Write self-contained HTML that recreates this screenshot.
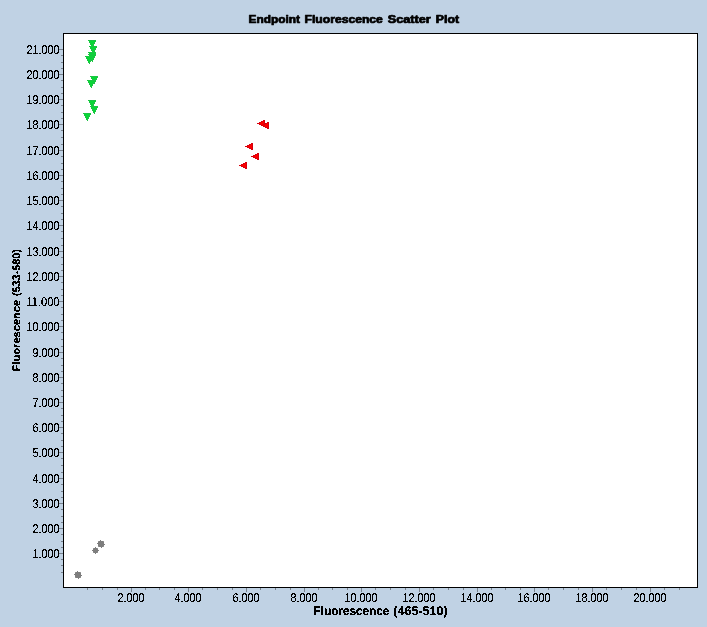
<!DOCTYPE html>
<html lang="en">
<head>
<meta charset="utf-8">
<title>Endpoint Fluorescence Scatter Plot</title>
<style>
html,body{margin:0;padding:0;}
body{width:707px;height:627px;overflow:hidden;background:#c0d2e4;}
#chart{display:block;width:707px;height:627px;background:#c0d2e4;}
text{font-family:"Liberation Sans",Arial,Helvetica,sans-serif;fill:#000;}
.lbl{font-size:12.6px;text-rendering:geometricPrecision;}
.axt{font-size:12.4px;font-weight:bold;text-rendering:geometricPrecision;}
.ttl{font-size:10.2px;font-weight:bold;}
</style>
</head>
<body>
<svg id="chart" width="707" height="627" viewBox="0 0 707 627">
<defs>
<filter id="crisp" x="-5%" y="-30%" width="110%" height="160%" color-interpolation-filters="sRGB"><feComponentTransfer><feFuncA type="discrete" tableValues="0 0 1 1 1"/></feComponentTransfer></filter>
<filter id="crispb" x="-5%" y="-30%" width="110%" height="160%" color-interpolation-filters="sRGB"><feComponentTransfer><feFuncA type="discrete" tableValues="0 1 1"/></feComponentTransfer></filter>
</defs>
<rect x="0" y="0" width="707" height="627" fill="#c0d2e4"/>
<g id="frame" shape-rendering="crispEdges">
<rect x="63" y="33" width="635" height="555" fill="#000"/>
<rect x="64" y="34" width="633" height="553" fill="#fff"/>
</g>
<g id="y-ticks" shape-rendering="crispEdges">
<rect x="59" y="553" width="4" height="1" fill="#78828e"/>
<rect x="59" y="528" width="4" height="1" fill="#78828e"/>
<rect x="59" y="503" width="4" height="1" fill="#78828e"/>
<rect x="59" y="478" width="4" height="1" fill="#78828e"/>
<rect x="59" y="452" width="4" height="1" fill="#78828e"/>
<rect x="59" y="427" width="4" height="1" fill="#78828e"/>
<rect x="59" y="402" width="4" height="1" fill="#78828e"/>
<rect x="59" y="377" width="4" height="1" fill="#78828e"/>
<rect x="59" y="352" width="4" height="1" fill="#78828e"/>
<rect x="59" y="326" width="4" height="1" fill="#78828e"/>
<rect x="59" y="301" width="4" height="1" fill="#78828e"/>
<rect x="59" y="276" width="4" height="1" fill="#78828e"/>
<rect x="59" y="251" width="4" height="1" fill="#78828e"/>
<rect x="59" y="225" width="4" height="1" fill="#78828e"/>
<rect x="59" y="200" width="4" height="1" fill="#78828e"/>
<rect x="59" y="175" width="4" height="1" fill="#78828e"/>
<rect x="59" y="150" width="4" height="1" fill="#78828e"/>
<rect x="59" y="124" width="4" height="1" fill="#78828e"/>
<rect x="59" y="99" width="4" height="1" fill="#78828e"/>
<rect x="59" y="74" width="4" height="1" fill="#78828e"/>
<rect x="59" y="49" width="4" height="1" fill="#78828e"/>
<rect x="61" y="55" width="2" height="1" fill="#78828e"/>
<rect x="61" y="62" width="2" height="1" fill="#78828e"/>
<rect x="61" y="68" width="2" height="1" fill="#78828e"/>
<rect x="61" y="80" width="2" height="1" fill="#78828e"/>
<rect x="61" y="87" width="2" height="1" fill="#78828e"/>
<rect x="61" y="93" width="2" height="1" fill="#78828e"/>
<rect x="61" y="105" width="2" height="1" fill="#78828e"/>
<rect x="61" y="112" width="2" height="1" fill="#78828e"/>
<rect x="61" y="118" width="2" height="1" fill="#78828e"/>
<rect x="61" y="130" width="2" height="1" fill="#78828e"/>
<rect x="61" y="137" width="2" height="1" fill="#78828e"/>
<rect x="61" y="144" width="2" height="1" fill="#78828e"/>
<rect x="61" y="156" width="2" height="1" fill="#78828e"/>
<rect x="61" y="163" width="2" height="1" fill="#78828e"/>
<rect x="61" y="169" width="2" height="1" fill="#78828e"/>
<rect x="61" y="181" width="2" height="1" fill="#78828e"/>
<rect x="61" y="188" width="2" height="1" fill="#78828e"/>
<rect x="61" y="194" width="2" height="1" fill="#78828e"/>
<rect x="61" y="206" width="2" height="1" fill="#78828e"/>
<rect x="61" y="213" width="2" height="1" fill="#78828e"/>
<rect x="61" y="219" width="2" height="1" fill="#78828e"/>
<rect x="61" y="231" width="2" height="1" fill="#78828e"/>
<rect x="61" y="238" width="2" height="1" fill="#78828e"/>
<rect x="61" y="245" width="2" height="1" fill="#78828e"/>
<rect x="61" y="257" width="2" height="1" fill="#78828e"/>
<rect x="61" y="264" width="2" height="1" fill="#78828e"/>
<rect x="61" y="270" width="2" height="1" fill="#78828e"/>
<rect x="61" y="282" width="2" height="1" fill="#78828e"/>
<rect x="61" y="289" width="2" height="1" fill="#78828e"/>
<rect x="61" y="295" width="2" height="1" fill="#78828e"/>
<rect x="61" y="307" width="2" height="1" fill="#78828e"/>
<rect x="61" y="314" width="2" height="1" fill="#78828e"/>
<rect x="61" y="320" width="2" height="1" fill="#78828e"/>
<rect x="61" y="332" width="2" height="1" fill="#78828e"/>
<rect x="61" y="339" width="2" height="1" fill="#78828e"/>
<rect x="61" y="346" width="2" height="1" fill="#78828e"/>
<rect x="61" y="358" width="2" height="1" fill="#78828e"/>
<rect x="61" y="365" width="2" height="1" fill="#78828e"/>
<rect x="61" y="371" width="2" height="1" fill="#78828e"/>
<rect x="61" y="383" width="2" height="1" fill="#78828e"/>
<rect x="61" y="390" width="2" height="1" fill="#78828e"/>
<rect x="61" y="396" width="2" height="1" fill="#78828e"/>
<rect x="61" y="408" width="2" height="1" fill="#78828e"/>
<rect x="61" y="415" width="2" height="1" fill="#78828e"/>
<rect x="61" y="421" width="2" height="1" fill="#78828e"/>
<rect x="61" y="433" width="2" height="1" fill="#78828e"/>
<rect x="61" y="440" width="2" height="1" fill="#78828e"/>
<rect x="61" y="446" width="2" height="1" fill="#78828e"/>
<rect x="61" y="458" width="2" height="1" fill="#78828e"/>
<rect x="61" y="465" width="2" height="1" fill="#78828e"/>
<rect x="61" y="472" width="2" height="1" fill="#78828e"/>
<rect x="61" y="484" width="2" height="1" fill="#78828e"/>
<rect x="61" y="491" width="2" height="1" fill="#78828e"/>
<rect x="61" y="497" width="2" height="1" fill="#78828e"/>
<rect x="61" y="509" width="2" height="1" fill="#78828e"/>
<rect x="61" y="516" width="2" height="1" fill="#78828e"/>
<rect x="61" y="522" width="2" height="1" fill="#78828e"/>
<rect x="61" y="534" width="2" height="1" fill="#78828e"/>
<rect x="61" y="541" width="2" height="1" fill="#78828e"/>
<rect x="61" y="547" width="2" height="1" fill="#78828e"/>
<rect x="61" y="559" width="2" height="1" fill="#78828e"/>
<rect x="61" y="565" width="2" height="1" fill="#78828e"/>
<rect x="61" y="572" width="2" height="1" fill="#78828e"/>
</g>
<g id="x-ticks" shape-rendering="crispEdges">
<rect x="131" y="588" width="1" height="4" fill="#78828e"/>
<rect x="188" y="588" width="1" height="4" fill="#78828e"/>
<rect x="246" y="588" width="1" height="4" fill="#78828e"/>
<rect x="304" y="588" width="1" height="4" fill="#78828e"/>
<rect x="361" y="588" width="1" height="4" fill="#78828e"/>
<rect x="419" y="588" width="1" height="4" fill="#78828e"/>
<rect x="477" y="588" width="1" height="4" fill="#78828e"/>
<rect x="534" y="588" width="1" height="4" fill="#78828e"/>
<rect x="592" y="588" width="1" height="4" fill="#78828e"/>
<rect x="650" y="588" width="1" height="4" fill="#78828e"/>
<rect x="87" y="588" width="1" height="2" fill="#78828e"/>
<rect x="102" y="588" width="1" height="2" fill="#78828e"/>
<rect x="117" y="588" width="1" height="2" fill="#78828e"/>
<rect x="145" y="588" width="1" height="2" fill="#78828e"/>
<rect x="159" y="588" width="1" height="2" fill="#78828e"/>
<rect x="174" y="588" width="1" height="2" fill="#78828e"/>
<rect x="202" y="588" width="1" height="2" fill="#78828e"/>
<rect x="217" y="588" width="1" height="2" fill="#78828e"/>
<rect x="232" y="588" width="1" height="2" fill="#78828e"/>
<rect x="260" y="588" width="1" height="2" fill="#78828e"/>
<rect x="275" y="588" width="1" height="2" fill="#78828e"/>
<rect x="290" y="588" width="1" height="2" fill="#78828e"/>
<rect x="318" y="588" width="1" height="2" fill="#78828e"/>
<rect x="332" y="588" width="1" height="2" fill="#78828e"/>
<rect x="347" y="588" width="1" height="2" fill="#78828e"/>
<rect x="375" y="588" width="1" height="2" fill="#78828e"/>
<rect x="390" y="588" width="1" height="2" fill="#78828e"/>
<rect x="405" y="588" width="1" height="2" fill="#78828e"/>
<rect x="433" y="588" width="1" height="2" fill="#78828e"/>
<rect x="448" y="588" width="1" height="2" fill="#78828e"/>
<rect x="463" y="588" width="1" height="2" fill="#78828e"/>
<rect x="491" y="588" width="1" height="2" fill="#78828e"/>
<rect x="505" y="588" width="1" height="2" fill="#78828e"/>
<rect x="520" y="588" width="1" height="2" fill="#78828e"/>
<rect x="548" y="588" width="1" height="2" fill="#78828e"/>
<rect x="563" y="588" width="1" height="2" fill="#78828e"/>
<rect x="578" y="588" width="1" height="2" fill="#78828e"/>
<rect x="606" y="588" width="1" height="2" fill="#78828e"/>
<rect x="621" y="588" width="1" height="2" fill="#78828e"/>
<rect x="636" y="588" width="1" height="2" fill="#78828e"/>
<rect x="664" y="588" width="1" height="2" fill="#78828e"/>
<rect x="679" y="588" width="1" height="2" fill="#78828e"/>
</g>
<g id="y-labels" class="lbl" text-anchor="end">
<text x="59.5" y="54" textLength="33" lengthAdjust="spacingAndGlyphs" filter="url(#crisp)">21.000</text>
<text x="59.5" y="79" textLength="33" lengthAdjust="spacingAndGlyphs" filter="url(#crisp)">20.000</text>
<text x="59.5" y="104" textLength="33" lengthAdjust="spacingAndGlyphs" filter="url(#crisp)">19.000</text>
<text x="59.5" y="129" textLength="33" lengthAdjust="spacingAndGlyphs" filter="url(#crisp)">18.000</text>
<text x="59.5" y="155" textLength="33" lengthAdjust="spacingAndGlyphs" filter="url(#crisp)">17.000</text>
<text x="59.5" y="180" textLength="33" lengthAdjust="spacingAndGlyphs" filter="url(#crisp)">16.000</text>
<text x="59.5" y="205" textLength="33" lengthAdjust="spacingAndGlyphs" filter="url(#crisp)">15.000</text>
<text x="59.5" y="230" textLength="33" lengthAdjust="spacingAndGlyphs" filter="url(#crisp)">14.000</text>
<text x="59.5" y="256" textLength="33" lengthAdjust="spacingAndGlyphs" filter="url(#crisp)">13.000</text>
<text x="59.5" y="281" textLength="33" lengthAdjust="spacingAndGlyphs" filter="url(#crisp)">12.000</text>
<text x="59.5" y="306" textLength="33" lengthAdjust="spacingAndGlyphs" filter="url(#crisp)">11.000</text>
<text x="59.5" y="331" textLength="33" lengthAdjust="spacingAndGlyphs" filter="url(#crisp)">10.000</text>
<text x="59.5" y="357" textLength="27" lengthAdjust="spacingAndGlyphs" filter="url(#crisp)">9.000</text>
<text x="59.5" y="382" textLength="27" lengthAdjust="spacingAndGlyphs" filter="url(#crisp)">8.000</text>
<text x="59.5" y="407" textLength="27" lengthAdjust="spacingAndGlyphs" filter="url(#crisp)">7.000</text>
<text x="59.5" y="432" textLength="27" lengthAdjust="spacingAndGlyphs" filter="url(#crisp)">6.000</text>
<text x="59.5" y="457" textLength="27" lengthAdjust="spacingAndGlyphs" filter="url(#crisp)">5.000</text>
<text x="59.5" y="483" textLength="27" lengthAdjust="spacingAndGlyphs" filter="url(#crisp)">4.000</text>
<text x="59.5" y="508" textLength="27" lengthAdjust="spacingAndGlyphs" filter="url(#crisp)">3.000</text>
<text x="59.5" y="533" textLength="27" lengthAdjust="spacingAndGlyphs" filter="url(#crisp)">2.000</text>
<text x="59.5" y="558" textLength="27" lengthAdjust="spacingAndGlyphs" filter="url(#crisp)">1.000</text>
</g>
<g id="x-labels" class="lbl">
<text x="117.5" y="602" textLength="27" lengthAdjust="spacingAndGlyphs" filter="url(#crisp)">2.000</text>
<text x="174.5" y="602" textLength="27" lengthAdjust="spacingAndGlyphs" filter="url(#crisp)">4.000</text>
<text x="232.5" y="602" textLength="27" lengthAdjust="spacingAndGlyphs" filter="url(#crisp)">6.000</text>
<text x="290.5" y="602" textLength="27" lengthAdjust="spacingAndGlyphs" filter="url(#crisp)">8.000</text>
<text x="344.5" y="602" textLength="33" lengthAdjust="spacingAndGlyphs" filter="url(#crisp)">10.000</text>
<text x="402.5" y="602" textLength="33" lengthAdjust="spacingAndGlyphs" filter="url(#crisp)">12.000</text>
<text x="460.5" y="602" textLength="33" lengthAdjust="spacingAndGlyphs" filter="url(#crisp)">14.000</text>
<text x="517.5" y="602" textLength="33" lengthAdjust="spacingAndGlyphs" filter="url(#crisp)">16.000</text>
<text x="575.5" y="602" textLength="33" lengthAdjust="spacingAndGlyphs" filter="url(#crisp)">18.000</text>
<text x="633.5" y="602" textLength="33" lengthAdjust="spacingAndGlyphs" filter="url(#crisp)">20.000</text>
</g>
<text id="title" class="ttl" y="22.5" stroke="#000" stroke-width="0.7" stroke-linejoin="round"><tspan x="248.6" textLength="51.4" lengthAdjust="spacingAndGlyphs">Endpoint</tspan> <tspan x="304.6" textLength="78.2" lengthAdjust="spacingAndGlyphs">Fluorescence</tspan> <tspan x="387.8" textLength="42.9" lengthAdjust="spacingAndGlyphs">Scatter</tspan> <tspan x="435.8" textLength="23.2" lengthAdjust="spacingAndGlyphs">Plot</tspan></text>
<text id="x-title" class="axt" y="615" filter="url(#crispb)"><tspan x="313.5" textLength="75.8" lengthAdjust="spacingAndGlyphs">Fluorescence</tspan> <tspan x="393.3" textLength="54.4" lengthAdjust="spacingAndGlyphs">(465-510)</tspan></text>
<text id="y-title" class="axt" style="font-size:11px" transform="translate(20 371.3) rotate(-90)" y="0" filter="url(#crisp)"><tspan x="0" textLength="71.4" lengthAdjust="spacingAndGlyphs">Fluorescence</tspan> <tspan x="75.2" textLength="47" lengthAdjust="spacingAndGlyphs">(533-580)</tspan></text>
<g id="series-green" shape-rendering="crispEdges">
<g><rect x="88" y="40" width="8" height="1" fill="#1cc444"/><rect x="89" y="41" width="7" height="1" fill="#1cc444"/><rect x="89" y="42" width="6" height="1" fill="#1cc444"/><rect x="90" y="43" width="5" height="1" fill="#1cc444"/><rect x="90" y="44" width="4" height="1" fill="#1cc444"/><rect x="91" y="45" width="3" height="1" fill="#1cc444"/><rect x="91" y="46" width="2" height="1" fill="#1cc444"/><rect x="92" y="47" width="1" height="1" fill="#1cc444"/><rect x="89" y="41" width="6" height="1" fill="#08d636"/><rect x="90" y="42" width="4" height="1" fill="#08d636"/><rect x="91" y="43" width="2" height="1" fill="#08d636"/><rect x="91" y="44" width="2" height="1" fill="#08d636"/><rect x="90" y="41" width="5" height="1" fill="#08d636"/><rect x="91" y="45" width="2" height="1" fill="#08d636"/></g>
<g><rect x="89" y="46" width="8" height="1" fill="#1cc444"/><rect x="90" y="47" width="7" height="1" fill="#1cc444"/><rect x="90" y="48" width="6" height="1" fill="#1cc444"/><rect x="91" y="49" width="5" height="1" fill="#1cc444"/><rect x="91" y="50" width="4" height="1" fill="#1cc444"/><rect x="92" y="51" width="3" height="1" fill="#1cc444"/><rect x="92" y="52" width="2" height="1" fill="#1cc444"/><rect x="93" y="53" width="1" height="1" fill="#1cc444"/><rect x="90" y="47" width="6" height="1" fill="#08d636"/><rect x="91" y="48" width="4" height="1" fill="#08d636"/><rect x="92" y="49" width="2" height="1" fill="#08d636"/><rect x="92" y="50" width="2" height="1" fill="#08d636"/><rect x="91" y="47" width="5" height="1" fill="#08d636"/><rect x="92" y="51" width="2" height="1" fill="#08d636"/></g>
<g><rect x="88" y="52" width="8" height="1" fill="#1cc444"/><rect x="89" y="53" width="7" height="1" fill="#1cc444"/><rect x="89" y="54" width="6" height="1" fill="#1cc444"/><rect x="90" y="55" width="5" height="1" fill="#1cc444"/><rect x="90" y="56" width="4" height="1" fill="#1cc444"/><rect x="91" y="57" width="3" height="1" fill="#1cc444"/><rect x="91" y="58" width="2" height="1" fill="#1cc444"/><rect x="92" y="59" width="1" height="1" fill="#1cc444"/><rect x="89" y="53" width="6" height="1" fill="#08d636"/><rect x="90" y="54" width="4" height="1" fill="#08d636"/><rect x="91" y="55" width="2" height="1" fill="#08d636"/><rect x="91" y="56" width="2" height="1" fill="#08d636"/><rect x="90" y="53" width="5" height="1" fill="#08d636"/><rect x="91" y="57" width="2" height="1" fill="#08d636"/></g>
<g><rect x="88" y="54" width="8" height="1" fill="#1cc444"/><rect x="89" y="55" width="7" height="1" fill="#1cc444"/><rect x="89" y="56" width="6" height="1" fill="#1cc444"/><rect x="90" y="57" width="5" height="1" fill="#1cc444"/><rect x="90" y="58" width="4" height="1" fill="#1cc444"/><rect x="91" y="59" width="3" height="1" fill="#1cc444"/><rect x="91" y="60" width="2" height="1" fill="#1cc444"/><rect x="92" y="61" width="1" height="1" fill="#1cc444"/><rect x="89" y="55" width="6" height="1" fill="#08d636"/><rect x="90" y="56" width="4" height="1" fill="#08d636"/><rect x="91" y="57" width="2" height="1" fill="#08d636"/><rect x="91" y="58" width="2" height="1" fill="#08d636"/><rect x="90" y="55" width="5" height="1" fill="#08d636"/><rect x="91" y="59" width="2" height="1" fill="#08d636"/></g>
<g><rect x="85" y="56" width="8" height="1" fill="#1cc444"/><rect x="86" y="57" width="7" height="1" fill="#1cc444"/><rect x="86" y="58" width="6" height="1" fill="#1cc444"/><rect x="87" y="59" width="5" height="1" fill="#1cc444"/><rect x="87" y="60" width="4" height="1" fill="#1cc444"/><rect x="88" y="61" width="3" height="1" fill="#1cc444"/><rect x="88" y="62" width="2" height="1" fill="#1cc444"/><rect x="89" y="63" width="1" height="1" fill="#1cc444"/><rect x="86" y="57" width="6" height="1" fill="#08d636"/><rect x="87" y="58" width="4" height="1" fill="#08d636"/><rect x="88" y="59" width="2" height="1" fill="#08d636"/><rect x="88" y="60" width="2" height="1" fill="#08d636"/><rect x="87" y="57" width="5" height="1" fill="#08d636"/><rect x="88" y="61" width="2" height="1" fill="#08d636"/></g>
<g><rect x="90" y="76" width="8" height="1" fill="#1cc444"/><rect x="91" y="77" width="7" height="1" fill="#1cc444"/><rect x="91" y="78" width="6" height="1" fill="#1cc444"/><rect x="92" y="79" width="5" height="1" fill="#1cc444"/><rect x="92" y="80" width="4" height="1" fill="#1cc444"/><rect x="93" y="81" width="3" height="1" fill="#1cc444"/><rect x="93" y="82" width="2" height="1" fill="#1cc444"/><rect x="94" y="83" width="1" height="1" fill="#1cc444"/><rect x="91" y="77" width="6" height="1" fill="#08d636"/><rect x="92" y="78" width="4" height="1" fill="#08d636"/><rect x="93" y="79" width="2" height="1" fill="#08d636"/><rect x="93" y="80" width="2" height="1" fill="#08d636"/><rect x="92" y="77" width="5" height="1" fill="#08d636"/><rect x="93" y="81" width="2" height="1" fill="#08d636"/></g>
<g><rect x="87" y="80" width="8" height="1" fill="#1cc444"/><rect x="88" y="81" width="7" height="1" fill="#1cc444"/><rect x="88" y="82" width="6" height="1" fill="#1cc444"/><rect x="89" y="83" width="5" height="1" fill="#1cc444"/><rect x="89" y="84" width="4" height="1" fill="#1cc444"/><rect x="90" y="85" width="3" height="1" fill="#1cc444"/><rect x="90" y="86" width="2" height="1" fill="#1cc444"/><rect x="91" y="87" width="1" height="1" fill="#1cc444"/><rect x="88" y="81" width="6" height="1" fill="#08d636"/><rect x="89" y="82" width="4" height="1" fill="#08d636"/><rect x="90" y="83" width="2" height="1" fill="#08d636"/><rect x="90" y="84" width="2" height="1" fill="#08d636"/><rect x="89" y="81" width="5" height="1" fill="#08d636"/><rect x="90" y="85" width="2" height="1" fill="#08d636"/></g>
<g><rect x="88" y="100" width="8" height="1" fill="#1cc444"/><rect x="89" y="101" width="7" height="1" fill="#1cc444"/><rect x="89" y="102" width="6" height="1" fill="#1cc444"/><rect x="90" y="103" width="5" height="1" fill="#1cc444"/><rect x="90" y="104" width="4" height="1" fill="#1cc444"/><rect x="91" y="105" width="3" height="1" fill="#1cc444"/><rect x="91" y="106" width="2" height="1" fill="#1cc444"/><rect x="92" y="107" width="1" height="1" fill="#1cc444"/><rect x="89" y="101" width="6" height="1" fill="#08d636"/><rect x="90" y="102" width="4" height="1" fill="#08d636"/><rect x="91" y="103" width="2" height="1" fill="#08d636"/><rect x="91" y="104" width="2" height="1" fill="#08d636"/><rect x="90" y="101" width="5" height="1" fill="#08d636"/><rect x="91" y="105" width="2" height="1" fill="#08d636"/></g>
<g><rect x="90" y="106" width="8" height="1" fill="#1cc444"/><rect x="91" y="107" width="7" height="1" fill="#1cc444"/><rect x="91" y="108" width="6" height="1" fill="#1cc444"/><rect x="92" y="109" width="5" height="1" fill="#1cc444"/><rect x="92" y="110" width="4" height="1" fill="#1cc444"/><rect x="93" y="111" width="3" height="1" fill="#1cc444"/><rect x="93" y="112" width="2" height="1" fill="#1cc444"/><rect x="94" y="113" width="1" height="1" fill="#1cc444"/><rect x="91" y="107" width="6" height="1" fill="#08d636"/><rect x="92" y="108" width="4" height="1" fill="#08d636"/><rect x="93" y="109" width="2" height="1" fill="#08d636"/><rect x="93" y="110" width="2" height="1" fill="#08d636"/><rect x="92" y="107" width="5" height="1" fill="#08d636"/><rect x="93" y="111" width="2" height="1" fill="#08d636"/></g>
<g><rect x="83" y="113" width="8" height="1" fill="#1cc444"/><rect x="84" y="114" width="7" height="1" fill="#1cc444"/><rect x="84" y="115" width="6" height="1" fill="#1cc444"/><rect x="85" y="116" width="5" height="1" fill="#1cc444"/><rect x="85" y="117" width="4" height="1" fill="#1cc444"/><rect x="86" y="118" width="3" height="1" fill="#1cc444"/><rect x="86" y="119" width="2" height="1" fill="#1cc444"/><rect x="87" y="120" width="1" height="1" fill="#1cc444"/><rect x="84" y="114" width="6" height="1" fill="#08d636"/><rect x="85" y="115" width="4" height="1" fill="#08d636"/><rect x="86" y="116" width="2" height="1" fill="#08d636"/><rect x="86" y="117" width="2" height="1" fill="#08d636"/><rect x="85" y="114" width="5" height="1" fill="#08d636"/><rect x="86" y="118" width="2" height="1" fill="#08d636"/></g>
</g>
<g id="series-red" shape-rendering="crispEdges">
<g><rect x="257" y="123" width="1" height="1" fill="#d4000e"/><rect x="258" y="123" width="1" height="1" fill="#d4000e"/><rect x="259" y="122" width="1" height="3" fill="#d4000e"/><rect x="260" y="122" width="1" height="3" fill="#d4000e"/><rect x="261" y="121" width="1" height="5" fill="#d4000e"/><rect x="262" y="121" width="1" height="5" fill="#d4000e"/><rect x="263" y="120" width="1" height="7" fill="#d4000e"/><rect x="264" y="120" width="1" height="7" fill="#d4000e"/><rect x="259" y="123" width="1" height="1" fill="#fa0000"/><rect x="260" y="123" width="1" height="1" fill="#fa0000"/><rect x="261" y="122" width="1" height="3" fill="#fa0000"/><rect x="262" y="122" width="1" height="3" fill="#fa0000"/><rect x="263" y="121" width="1" height="5" fill="#fa0000"/></g>
<g><rect x="261" y="125" width="1" height="1" fill="#d4000e"/><rect x="262" y="125" width="1" height="1" fill="#d4000e"/><rect x="263" y="124" width="1" height="3" fill="#d4000e"/><rect x="264" y="124" width="1" height="3" fill="#d4000e"/><rect x="265" y="123" width="1" height="5" fill="#d4000e"/><rect x="266" y="123" width="1" height="5" fill="#d4000e"/><rect x="267" y="122" width="1" height="7" fill="#d4000e"/><rect x="268" y="122" width="1" height="7" fill="#d4000e"/><rect x="263" y="125" width="1" height="1" fill="#fa0000"/><rect x="264" y="125" width="1" height="1" fill="#fa0000"/><rect x="265" y="124" width="1" height="3" fill="#fa0000"/><rect x="266" y="124" width="1" height="3" fill="#fa0000"/><rect x="267" y="123" width="1" height="5" fill="#fa0000"/></g>
<g><rect x="245" y="146" width="1" height="1" fill="#d4000e"/><rect x="246" y="146" width="1" height="1" fill="#d4000e"/><rect x="247" y="145" width="1" height="3" fill="#d4000e"/><rect x="248" y="145" width="1" height="3" fill="#d4000e"/><rect x="249" y="144" width="1" height="5" fill="#d4000e"/><rect x="250" y="144" width="1" height="5" fill="#d4000e"/><rect x="251" y="143" width="1" height="7" fill="#d4000e"/><rect x="252" y="143" width="1" height="7" fill="#d4000e"/><rect x="247" y="146" width="1" height="1" fill="#fa0000"/><rect x="248" y="146" width="1" height="1" fill="#fa0000"/><rect x="249" y="145" width="1" height="3" fill="#fa0000"/><rect x="250" y="145" width="1" height="3" fill="#fa0000"/><rect x="251" y="144" width="1" height="5" fill="#fa0000"/></g>
<g><rect x="251" y="156" width="1" height="1" fill="#d4000e"/><rect x="252" y="156" width="1" height="1" fill="#d4000e"/><rect x="253" y="155" width="1" height="3" fill="#d4000e"/><rect x="254" y="155" width="1" height="3" fill="#d4000e"/><rect x="255" y="154" width="1" height="5" fill="#d4000e"/><rect x="256" y="154" width="1" height="5" fill="#d4000e"/><rect x="257" y="153" width="1" height="7" fill="#d4000e"/><rect x="258" y="153" width="1" height="7" fill="#d4000e"/><rect x="253" y="156" width="1" height="1" fill="#fa0000"/><rect x="254" y="156" width="1" height="1" fill="#fa0000"/><rect x="255" y="155" width="1" height="3" fill="#fa0000"/><rect x="256" y="155" width="1" height="3" fill="#fa0000"/><rect x="257" y="154" width="1" height="5" fill="#fa0000"/></g>
<g><rect x="239" y="165" width="1" height="1" fill="#d4000e"/><rect x="240" y="165" width="1" height="1" fill="#d4000e"/><rect x="241" y="164" width="1" height="3" fill="#d4000e"/><rect x="242" y="164" width="1" height="3" fill="#d4000e"/><rect x="243" y="163" width="1" height="5" fill="#d4000e"/><rect x="244" y="163" width="1" height="5" fill="#d4000e"/><rect x="245" y="162" width="1" height="7" fill="#d4000e"/><rect x="246" y="162" width="1" height="7" fill="#d4000e"/><rect x="241" y="165" width="1" height="1" fill="#fa0000"/><rect x="242" y="165" width="1" height="1" fill="#fa0000"/><rect x="243" y="164" width="1" height="3" fill="#fa0000"/><rect x="244" y="164" width="1" height="3" fill="#fa0000"/><rect x="245" y="163" width="1" height="5" fill="#fa0000"/></g>
</g>
<g id="series-gray" shape-rendering="crispEdges">
<g><rect x="75" y="572" width="6" height="6" fill="#959595"/><rect x="76" y="572" width="4" height="6" fill="#7e7e7e"/><rect x="75" y="573" width="6" height="4" fill="#7e7e7e"/><rect x="77" y="571" width="1" height="1" fill="#7e7e7e"/><rect x="78" y="578" width="1" height="1" fill="#7e7e7e"/><rect x="74" y="574" width="1" height="1" fill="#7e7e7e"/><rect x="81" y="575" width="1" height="1" fill="#7e7e7e"/></g>
<g><rect x="93" y="548" width="5" height="5" fill="#959595"/><rect x="94" y="548" width="3" height="5" fill="#7e7e7e"/><rect x="93" y="549" width="5" height="3" fill="#7e7e7e"/><rect x="95" y="547" width="1" height="7" fill="#7e7e7e"/><rect x="92" y="550" width="7" height="1" fill="#7e7e7e"/></g>
<g><rect x="98" y="541" width="6" height="6" fill="#959595"/><rect x="99" y="541" width="4" height="6" fill="#7e7e7e"/><rect x="98" y="542" width="6" height="4" fill="#7e7e7e"/><rect x="100" y="540" width="1" height="1" fill="#7e7e7e"/><rect x="101" y="547" width="1" height="1" fill="#7e7e7e"/><rect x="97" y="543" width="1" height="1" fill="#7e7e7e"/><rect x="104" y="544" width="1" height="1" fill="#7e7e7e"/></g>
</g>
</svg>
</body>
</html>
